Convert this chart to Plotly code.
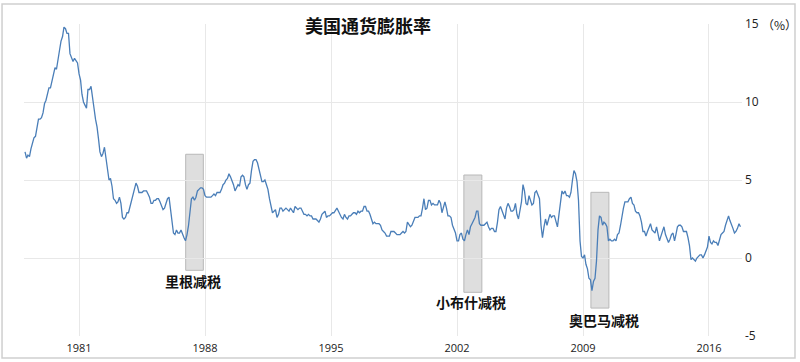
import plotly.graph_objects as go
import pandas as pd

start_month = "1978-01-01"
inflation = [
    6.8, 6.4, 6.6, 6.5, 7.0, 7.4, 7.7, 7.8, 8.3, 8.9, 8.9, 9.0,
    9.3, 9.9, 10.1, 10.5, 10.9, 10.9, 11.3, 11.8, 12.2, 12.1, 12.6, 13.3,
    13.9, 14.2, 14.8, 14.7, 14.4, 14.4, 13.1, 12.9, 12.6, 12.8, 12.6, 12.5,
    11.8, 11.4, 10.5, 10.0, 9.8, 9.6, 10.8, 10.8, 11.0, 10.1, 9.6, 8.9,
    8.4, 7.6, 6.8, 6.5, 6.7, 7.1, 6.4, 5.9, 5.0, 5.1, 4.6, 3.8,
    3.7, 3.5, 3.6, 3.9, 3.5, 2.6, 2.5, 2.6, 2.9, 2.9, 3.3, 3.8,
    4.2, 4.6, 4.8, 4.6, 4.2, 4.2, 4.2, 4.3, 4.3, 4.3, 4.1, 3.9,
    3.5, 3.5, 3.7, 3.7, 3.8, 3.8, 3.6, 3.3, 3.1, 3.2, 3.5, 3.8,
    3.9, 3.1, 2.2, 1.6, 1.5, 1.8, 1.6, 1.6, 1.8, 1.5, 1.3, 1.1,
    1.5, 2.1, 3.0, 3.8, 3.9, 3.7, 3.9, 4.3, 4.4, 4.5, 4.5, 4.4,
    4.0, 3.9, 3.9, 3.9, 3.9, 4.0, 4.1, 4.0, 4.2, 4.2, 4.2, 4.4,
    4.7, 4.8, 5.0, 5.1, 5.4, 5.2, 5.0, 4.7, 4.3, 4.5, 4.7, 4.6,
    5.2, 5.3, 5.2, 4.7, 4.4, 4.7, 4.8, 5.6, 6.2, 6.3, 6.3, 6.1,
    5.7, 5.3, 4.9, 4.9, 5.0, 4.7, 4.4, 3.8, 3.4, 2.9, 3.0, 3.1,
    2.6, 2.8, 3.2, 3.2, 3.0, 3.1, 3.2, 3.1, 3.0, 3.2, 3.0, 2.9,
    3.3, 3.2, 3.1, 3.2, 3.2, 3.0, 2.8, 2.8, 2.7, 2.8, 2.7, 2.7,
    2.5, 2.5, 2.5, 2.4, 2.3, 2.5, 2.8, 2.9, 3.0, 2.6, 2.7, 2.7,
    2.8, 2.9, 2.9, 3.1, 3.2, 3.0, 2.8, 2.6, 2.5, 2.8, 2.6, 2.5,
    2.7, 2.7, 2.8, 2.9, 2.9, 2.8, 3.0, 2.9, 3.0, 3.0, 3.3, 3.3,
    3.0, 3.0, 2.8, 2.5, 2.2, 2.3, 2.2, 2.2, 2.2, 2.1, 1.8, 1.7,
    1.6, 1.4, 1.4, 1.4, 1.7, 1.7, 1.7, 1.6, 1.5, 1.5, 1.5, 1.6,
    1.7, 1.6, 1.7, 2.3, 2.1, 2.0, 2.1, 2.3, 2.6, 2.6, 2.6, 2.7,
    2.7, 3.2, 3.8, 3.1, 3.2, 3.7, 3.7, 3.4, 3.5, 3.4, 3.4, 3.4,
    3.7, 3.5, 2.9, 3.3, 3.6, 3.2, 2.7, 2.7, 2.6, 2.1, 1.9, 1.6,
    1.1, 1.1, 1.5, 1.6, 1.2, 1.1, 1.5, 1.8, 1.5, 2.0, 2.2, 2.4,
    2.6, 3.0, 3.0, 2.2, 2.1, 2.1, 2.1, 2.2, 2.3, 2.0, 1.8, 1.9,
    1.9, 1.7, 1.7, 2.3, 3.1, 3.3, 3.0, 2.7, 2.5, 3.2, 3.5, 3.3,
    3.0, 3.0, 3.1, 3.5, 2.8, 2.5, 3.2, 3.6, 4.7, 4.3, 3.5, 3.4,
    4.0, 3.6, 3.4, 3.5, 4.2, 4.3, 4.1, 3.8, 2.1, 1.3, 2.0, 2.5,
    2.1, 2.4, 2.8, 2.6, 2.7, 2.7, 2.4, 2.0, 2.8, 3.5, 4.3, 4.1,
    4.3, 4.0, 4.0, 3.9, 4.2, 5.0, 5.6, 5.4, 4.9, 3.7, 1.1, 0.1,
    0.0, 0.2, -0.4, -0.7, -1.3, -1.4, -2.1, -1.5, -1.3, -0.2, 1.8, 2.7,
    2.6, 2.1, 2.3, 2.2, 2.0, 1.1, 1.2, 1.1, 1.1, 1.2, 1.1, 1.5,
    1.6, 2.1, 2.7, 3.2, 3.6, 3.6, 3.6, 3.8, 3.9, 3.5, 3.4, 3.0,
    2.9, 2.9, 2.7, 2.3, 1.7, 1.7, 1.4, 1.7, 2.0, 2.2, 1.8, 1.7,
    1.6, 2.0, 1.5, 1.1, 1.4, 1.8, 2.0, 1.5, 1.2, 1.0, 1.2, 1.5,
    1.6, 1.1, 1.5, 2.0, 2.1, 2.1, 2.0, 1.7, 1.7, 1.7, 1.3, 0.8,
    -0.1, 0.0, -0.1, -0.2, 0.0, 0.1, 0.2, 0.2, 0.0, 0.2, 0.5, 0.7,
    1.4, 1.0, 0.9, 1.1, 1.0, 1.0, 0.8, 1.1, 1.5, 1.6, 1.7, 2.1,
    2.5, 2.7, 2.4, 2.2, 1.9, 1.6, 1.7, 1.9, 2.2, 2.0,
]
dates = pd.date_range(start_month, periods=len(inflation), freq="MS")

tick_years = ["1981", "1988", "1995", "2002", "2009", "2016"]
y_ticks = [15, 10, 5, 0, -5]

tax_cut_labels = ["里根减税", "小布什减税", "奥巴马减税"]
tax_cut_start = ["1986-12-05", "2002-05-20", "2009-06-10"]
tax_cut_end = ["1987-11-28", "2003-05-20", "2010-06-10"]
tax_cut_top = [6.65, 5.32, 4.21]
tax_cut_bottom = [-0.79, -2.2, -3.21]
label_x = ["1987-05-01", "2002-10-15", "2010-03-01"]
label_y = [-1.47, -2.82, -3.97]

title_text = "美国通货膨胀率"
unit_text = "（%）"

fig = go.Figure()
fig.add_trace(go.Scatter(
    x=dates, y=inflation, mode="lines",
    line=dict(color="#4a7eb8", width=1.3),
    hoverinfo="x+y", showlegend=False,
))

shapes = []
annotations = []
for lab, x0, x1, top, bot, lx, ly in zip(tax_cut_labels, tax_cut_start, tax_cut_end,
                                          tax_cut_top, tax_cut_bottom, label_x, label_y):
    shapes.append(dict(type="rect", xref="x", yref="y", x0=x0, x1=x1, y0=bot, y1=top,
                       fillcolor="#dedede", line=dict(color="#b8b8b8", width=1),
                       layer="below"))
    annotations.append(dict(x=lx, y=ly, xref="x", yref="y", text="<b>%s</b>" % lab,
                            showarrow=False,
                            font=dict(family="Noto Sans CJK SC", size=14, color="#111")))

# outer frame
shapes.append(dict(type="rect", xref="paper", yref="paper",
                   x0=-0.0306, x1=1.0738, y0=-0.0705, y1=1.0641,
                   line=dict(color="#cfcfcf", width=1.5), fillcolor="rgba(0,0,0,0)",
                   layer="above"))

annotations.append(dict(x=0.479, y=0.997, xref="paper", yref="paper",
                        text="<b>%s</b>" % title_text, showarrow=False,
                        xanchor="center", yanchor="middle",
                        font=dict(family="Noto Sans CJK SC", size=18, color="#111")))
annotations.append(dict(x=1.052, y=1.0, xref="paper", yref="paper",
                        text=unit_text, showarrow=False,
                        xanchor="center", yanchor="middle",
                        font=dict(family="Noto Sans CJK SC", size=12, color="#222")))

fig.update_layout(
    width=800, height=362,
    margin=dict(l=24, r=58, t=24, b=26, autoexpand=False),
    paper_bgcolor="white", plot_bgcolor="white",
    shapes=shapes, annotations=annotations,
    xaxis=dict(
        range=["1977-12-11", "2017-11-01"],
        tickvals=[y + "-01-01" for y in tick_years],
        ticktext=tick_years,
        showgrid=True, gridcolor="#e8e8e8", gridwidth=1,
        zeroline=False, showline=False, ticks="",
        ticklabelstandoff=4, automargin=False,
        tickfont=dict(family="Open Sans", size=11, color="#222"),
    ),
    yaxis=dict(
        range=[-5, 15], side="right",
        tickvals=y_ticks, ticktext=[str(v) for v in y_ticks],
        showgrid=True, gridcolor="#e8e8e8", gridwidth=1,
        zeroline=False, showline=False, ticks="",
        ticklabelstandoff=2, automargin=False,
        tickfont=dict(family="Open Sans", size=12, color="#222"),
    ),
)

fig.write_html("out.html", config={"displayModeBar": False},
               post_script="document.body.style.margin='0';document.body.style.overflow='hidden';")
